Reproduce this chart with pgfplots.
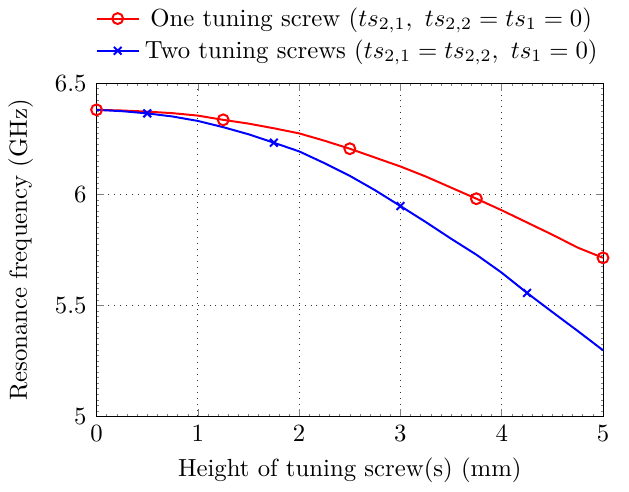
\documentclass[border=0pt]{standalone}
\usepackage{pgfplots}
\pgfplotsset{compat=1.18}
\begin{document}
\begin{tikzpicture}
\begin{axis}[
  scale only axis,
  width=204.5pt, height=134.6pt,
  xmin=0, xmax=5, ymin=5, ymax=6.5,
  xtick={0,1,2,3,4,5},
  ytick={5,5.5,6,6.5},
  minor x tick num=9,
  minor y tick num=19,
  minor tick length=1pt,
  major tick length=3pt,
  grid=major,
  major grid style={dotted, black!80},
  xlabel={Height of tuning screw(s) (mm)},
  ylabel={Resonance frequency (GHz)},
  ylabel shift=2pt,
  yticklabel style={xshift=-0.5pt},
  legend style={at={(1.005,1.04)}, anchor=south east, draw=none, fill=none, row sep=0pt, inner sep=1pt},
  legend cell align=center,
]
\addplot[red, thick, mark=o, mark size=2.2pt, mark repeat=5, mark phase=1, mark options={solid}] coordinates {
(0,6.380) (0.25,6.377) (0.5,6.372) (0.75,6.365) (1.0,6.354) (1.25,6.335) (1.5,6.318) (1.75,6.297) (2.0,6.274) (2.25,6.241) (2.5,6.205) (2.75,6.165) (3.0,6.125) (3.25,6.080) (3.5,6.030) (3.75,5.980) (4.0,5.928) (4.25,5.873) (4.5,5.818) (4.75,5.760) (5.0,5.714)
};
\addlegendentry{One tuning screw ($ts_{2,1},\ ts_{2,2}=ts_1=0$)}
\addplot[blue, thick, mark=x, mark size=2.2pt, mark repeat=5, mark phase=3, mark options={solid}] coordinates {
(0,6.380) (0.25,6.374) (0.5,6.364) (0.75,6.350) (1.0,6.330) (1.25,6.302) (1.5,6.270) (1.75,6.232) (2.0,6.193) (2.25,6.140) (2.5,6.083) (2.75,6.018) (3.0,5.947) (3.25,5.875) (3.5,5.800) (3.75,5.728) (4.0,5.647) (4.25,5.556) (4.5,5.470) (4.75,5.385) (5.0,5.298)
};
\addlegendentry{Two tuning screws ($ts_{2,1}=ts_{2,2},\ ts_1=0$)}
\end{axis}
\path (current axis.east) ++(10.5pt,0);
\end{tikzpicture}
\end{document}
